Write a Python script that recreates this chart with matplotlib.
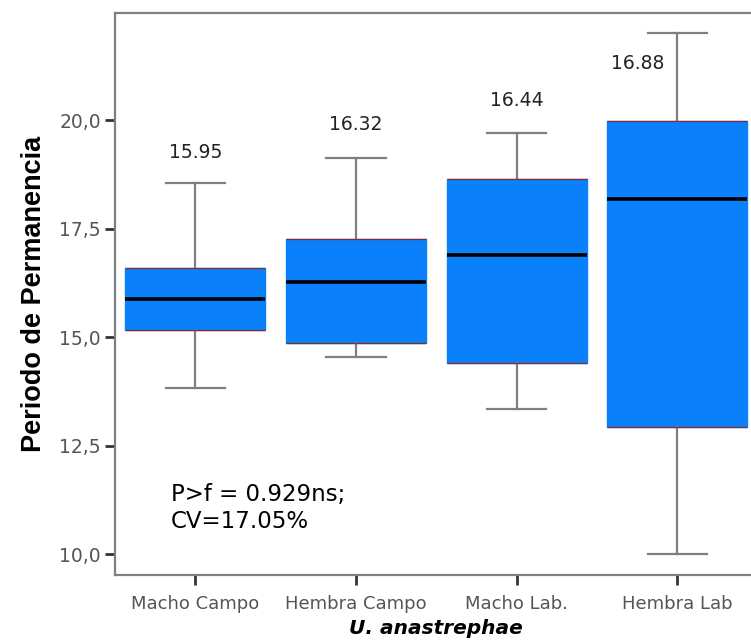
import matplotlib
matplotlib.use("Agg")
import matplotlib.pyplot as plt
from matplotlib.ticker import FuncFormatter

plt.rcParams['font.family'] = ['DejaVu Sans']

# datos
grupos = ['Macho Campo', 'Hembra Campo', 'Macho Lab.', 'Hembra Lab']
medias = ['15.95', '16.32', '16.44', '16.88']
bigote_inf = [13.82, 14.54, 13.34, 10.0]
q1 = [15.16, 14.86, 14.40, 12.93]
mediana = [15.88, 16.27, 16.89, 18.18]
q3 = [16.59, 17.26, 18.64, 19.97]
bigote_sup = [18.55, 19.12, 19.70, 22.0]
pos_etiqueta = [19.26, 19.91, 20.46, 21.31]

azul = '#0a80fa'
gris = '#7f7f7f'

fig = plt.figure(figsize=(7.51, 6.44), dpi=100)
ax = fig.add_axes([0.153, 0.107, 0.856, 0.873])

stats = []
for i in range(len(grupos)):
    stats.append(dict(label=grupos[i], whislo=bigote_inf[i], q1=q1[i],
                      med=mediana[i], q3=q3[i], whishi=bigote_sup[i], fliers=[]))

pos = list(range(1, len(grupos) + 1))
bp = ax.bxp(stats, positions=pos, widths=0.87, capwidths=0.37,
            patch_artist=True, showfliers=False)
for caja in bp['boxes']:
    caja.set_facecolor(azul)
    caja.set_edgecolor(azul)
    caja.set_linewidth(1)
for m in bp['medians']:
    m.set_color('black')
    m.set_linewidth(2.6)
for w in bp['whiskers'] + bp['caps']:
    w.set_color(gris)
    w.set_linewidth(1.6)

# borde rojizo en los cuartiles
for p, a, b in zip(pos, q1, q3):
    ax.hlines([a, b], p - 0.435, p + 0.435, color='#8a2a2a', lw=0.9, zorder=3)

# etiquetas con la media
desplaz = [0, 0, 0, -0.25]
for p, d, y, t in zip(pos, desplaz, pos_etiqueta, medias):
    ax.text(p + d, y, t, ha='center', va='center', fontsize=13.5, color='#222222')

ax.text(0.85, 11.06, 'P>f = 0.929ns;\nCV=17.05%', fontsize=16.5,
        ha='left', va='center', linespacing=1.25, color='black')

ax.set_xlim(0.5, 4.5)
ax.set_ylim(9.52, 22.47)
ax.set_yticks([10, 12.5, 15, 17.5, 20])
ax.yaxis.set_major_formatter(FuncFormatter(lambda v, _: f'{v:.1f}'.replace('.', ',')))
ax.set_xticks(pos)
ax.set_xticklabels(grupos)

for s in ax.spines.values():
    s.set_color(gris)
    s.set_linewidth(1.6)
ax.tick_params(axis='both', colors='#333333', width=2, length=7, labelsize=13,
               labelcolor='#555555')
ax.tick_params(axis='x', pad=7)
ax.tick_params(axis='y', labelsize=13.5, pad=3)

ax.set_ylabel('Periodo de Permanencia', fontsize=19.5, fontweight='bold', labelpad=9,
              family=['Liberation Sans', 'DejaVu Sans'])
ax.set_xlabel('U. anastrephae', fontsize=14.5, fontweight='bold', style='italic',
              labelpad=5)

fig.savefig('out.png', dpi=100)
